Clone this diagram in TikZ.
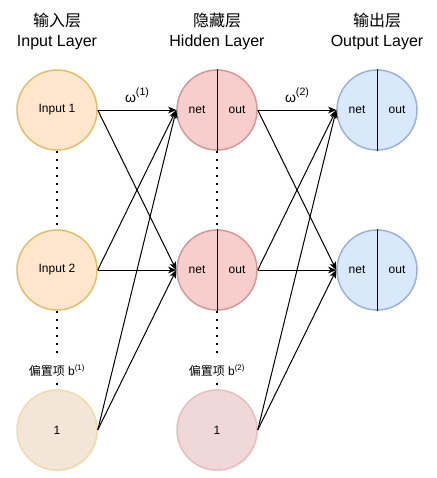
\documentclass[tikz,border=0pt]{standalone}
\usepackage{fontspec}
\setmainfont{Liberation Sans}
\newfontfamily\cjk{Noto Sans CJK SC}
\definecolor{infill}{RGB}{255,230,204}
\definecolor{indraw}{RGB}{226,190,104}
\definecolor{hidfill}{RGB}{248,206,204}
\definecolor{hiddraw}{RGB}{214,150,148}
\definecolor{outfill}{RGB}{218,232,252}
\definecolor{outdraw}{RGB}{152,178,218}
\definecolor{biasfillA}{RGB}{243,230,216}
\definecolor{biasdrawA}{RGB}{240,218,170}
\definecolor{biasfillB}{RGB}{240,216,216}
\definecolor{biasdrawB}{RGB}{230,190,190}
\usetikzlibrary{arrows.meta,calc,shadows}
\tikzset{
  neuron/.style={circle, minimum size=60pt, inner sep=0pt, line width=1.1pt,
              font=\fontsize{9}{11}\selectfont},
  inunit/.style={neuron, draw=indraw, fill=infill},
  hidunit/.style={neuron, draw=hiddraw, fill=hidfill},
  outunit/.style={neuron, draw=outdraw, fill=outfill},
  biasunit/.style={neuron, drop shadow={opacity=0.12, shadow xshift=0.8pt, shadow yshift=-1.2pt}},
  heading/.style={font=\fontsize{12}{15}\selectfont, align=center},
  tag/.style={font=\fontsize{9}{11}\selectfont},
  weight/.style={font=\fontsize{10.5}{12}\selectfont},
  wire/.style={-{Stealth[length=6pt, width=5pt, inset=1.5pt]}, line width=0.75pt},
  dots/.style={line width=1.5pt, dash pattern=on 1.5pt off 4.5pt},
}
\newcommand{\upidx}[1]{\raisebox{0.85ex}{\fontsize{8}{8}\selectfont(#1)}}

\begin{document}
\begin{tikzpicture}[x=0.75pt, y=-0.75pt]
  \useasboundingbox (0,0) rectangle (436,478);
  % layer titles
  \node[heading] (tin)  at (57,31)  {{\cjk 输入层}\\Input Layer};
  \node[heading] (thid) at (217,31) {{\cjk 隐藏层}\\Hidden Layer};
  \node[heading] (tout) at (377,31) {{\cjk 输出层}\\Output Layer};
  % neurons
  \node[inunit]  (i1) at (57,110)  {Input 1};
  \node[inunit]  (i2) at (57,270)  {Input 2};
  \node[biasunit, draw=biasdrawA, fill=biasfillA] (b1) at (57,430) {1};
  \node[hidunit] (h1) at (217,110) {};
  \node[hidunit] (h2) at (217,270) {};
  \node[biasunit, draw=biasdrawB, fill=biasfillB] (b2) at (217,430) {1};
  \node[outunit] (o1) at (377,110) {};
  \node[outunit] (o2) at (377,270) {};
  % net / out halves
  \foreach \n in {h1,h2,o1,o2} {
    \draw[line width=0.75pt] (\n.north) -- (\n.south);
    \node[tag] at ($(\n.center)+(-20,0)$) {net};
    \node[tag] at ($(\n.center)+(20,0)$)  {out};
  }
  % dotted columns
  \draw[dots] (i1.south) -- (i2.north);
  \draw[dots] (h1.south) -- (h2.north);
  \draw[dots] (i2.south) -- (b1.north)
    node[pos=0.76, tag, fill=white, inner sep=4pt] {{\cjk 偏置项} b\textsuperscript{(1)}};
  \draw[dots] (h2.south) -- (b2.north)
    node[pos=0.76, tag, fill=white, inner sep=4pt] {{\cjk 偏置项} b\textsuperscript{(2)}};
  % weights
  \draw[wire] (i1.east) -- (h1.west) node[midway, above=2pt, weight] {ω\upidx{1}};
  \draw[wire] (h1.east) -- (o1.west) node[midway, above=2pt, weight] {ω\upidx{2}};
  \foreach \a/\b in {i1/h2, i2/h1, i2/h2, b1/h1, b1/h2, h1/o2, h2/o1, h2/o2, b2/o1, b2/o2}
    \draw[wire] (\a.east) -- (\b.west);
\end{tikzpicture}
\end{document}
